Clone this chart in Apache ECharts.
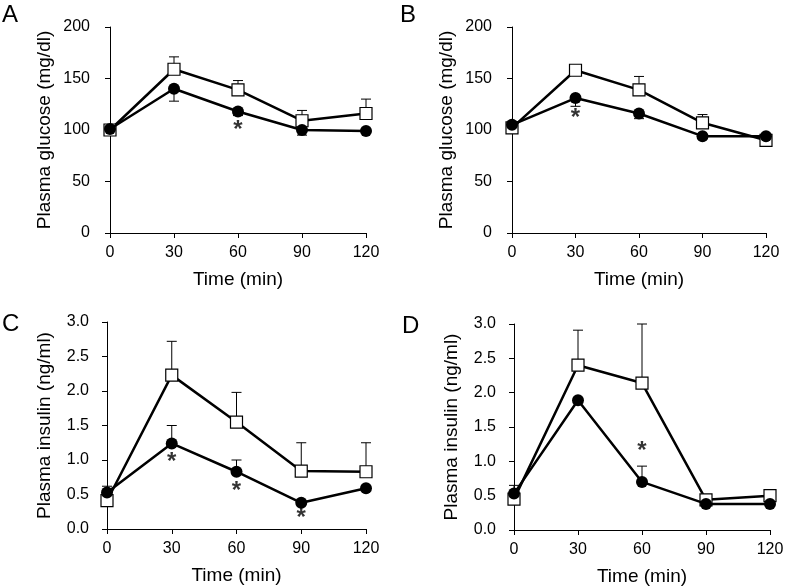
<!DOCTYPE html>
<html><head><meta charset="utf-8">
<script src="https://cdn.jsdelivr.net/npm/echarts@6/dist/echarts.min.js"></script>
<style>html,body{margin:0;padding:0;background:#fff}#c{width:787px;height:587px}</style>
</head><body><div id="c"></div>
<script>
const times = [0, 30, 60, 90, 120];
const xTicks = [0, 30, 60, 90, 120];
// Panel A: plasma glucose
const A_open = [100, 159, 139, 109, 116];
const A_openErr = [null, 171, 148, 119, 130];
const A_filled = [101, 140, 118, 100, 99];
const A_filledErr = [null, 128, 114, 95, null];
const A_star = [[60, 100]];
// Panel B: plasma glucose
const B_open = [102, 158, 139, 107, 90];
const B_openErr = [null, null, 152, 115, null];
const B_filled = [105, 131, 116, 94, 94];
const B_filledErr = [null, 123, 111, null, null];
const B_star = [[30, 111]];
// Panel C: plasma insulin
const C_open = [0.41, 2.23, 1.55, 0.84, 0.83];
const C_openErr = [0.62, 2.72, 1.98, 1.25, 1.25];
const C_filled = [0.53, 1.24, 0.83, 0.38, 0.59];
const C_filledErr = [null, 1.50, 1.00, null, null];
const C_star = [[30, 0.97], [60, 0.55], [90, 0.15]];
// Panel D: plasma insulin
const D_open = [0.45, 2.40, 2.14, 0.44, 0.50];
const D_openErr = [0.65, 2.91, 3.00, null, null];
const D_filled = [0.53, 1.89, 0.70, 0.38, 0.38];
const D_filledErr = [null, null, 0.93, null, null];
const D_star = [[60, 1.15]];

const letters = ['A', 'B', 'C', 'D'];
const yNames = ['Plasma glucose (mg/dl)', 'Plasma glucose (mg/dl)', 'Plasma insulin (ng/ml)', 'Plasma insulin (ng/ml)'];
const yMax = [200, 200, 3.0, 3.0];
const yInterval = [50, 50, 0.5, 0.5];

const panels = [
  {open: A_open, openErr: A_openErr, filled: A_filled, filledErr: A_filledErr, star: A_star},
  {open: B_open, openErr: B_openErr, filled: B_filled, filledErr: B_filledErr, star: B_star},
  {open: C_open, openErr: C_openErr, filled: C_filled, filledErr: C_filledErr, star: C_star},
  {open: D_open, openErr: D_openErr, filled: D_filled, filledErr: D_filledErr, star: D_star}
];

const grids = [
  {left: 110, top: 27, width: 256, height: 206},
  {left: 512, top: 27, width: 254, height: 206},
  {left: 107, top: 322, width: 259, height: 207},
  {left: 514, top: 324, width: 256, height: 207}
];
const letterPos = [[2, 3], [400, 3], [2, 312], [402, 314]];
const FONT = 'Liberation Sans, Arial, sans-serif';

const xAxes = [], yAxes = [], series = [], graphics = [];
panels.forEach((p, i) => {
  xAxes.push({
    gridIndex: i, type: 'value', min: 0, max: 120, interval: 30,
    name: 'Time (min)', nameLocation: 'middle', nameGap: 37,
    nameTextStyle: {fontFamily: FONT, fontSize: 19, color: '#000'},
    axisLine: {show: true, lineStyle: {color: '#000', width: 1}},
    axisTick: {show: true, length: 5, lineStyle: {color: '#000'}},
    axisLabel: {fontFamily: FONT, fontSize: 16, color: '#000', margin: 12,
      customValues: xTicks},
    splitLine: {show: false}
  });
  yAxes.push({
    gridIndex: i, type: 'value', min: 0, max: yMax[i], interval: yInterval[i],
    name: yNames[i], nameLocation: 'middle', nameGap: i < 2 ? 56 : 53,
    nameTextStyle: {fontFamily: FONT, fontSize: 19, color: '#000'},
    axisLine: {show: true, lineStyle: {color: '#000', width: 1}},
    axisTick: {show: true, length: 5, lineStyle: {color: '#000'}},
    axisLabel: {fontFamily: FONT, fontSize: 16, color: '#000', margin: i < 2 ? 20 : 18,
      formatter: v => i < 2 ? String(v) : v.toFixed(1)},
    splitLine: {show: false}
  });
  const errData = (means, ends) => times.map((t, k) => ends[k] == null ? null : [t, means[k], ends[k]]).filter(d => d);
  const errSeries = (means, ends) => ({
    type: 'custom', xAxisIndex: i, yAxisIndex: i, z: 1,
    data: errData(means, ends),
    renderItem: (params, api) => {
      const a = api.coord([api.value(0), api.value(1)]);
      const b = api.coord([api.value(0), api.value(2)]);
      const hw = 5;
      return {type: 'group', children: [
        {type: 'line', shape: {x1: a[0], y1: a[1], x2: b[0], y2: b[1]}, style: {stroke: '#000', lineWidth: 1}},
        {type: 'line', shape: {x1: b[0] - hw, y1: b[1], x2: b[0] + hw, y2: b[1]}, style: {stroke: '#000', lineWidth: 1}}
      ]};
    },
    silent: true
  });
  series.push(errSeries(p.open, p.openErr));
  series.push(errSeries(p.filled, p.filledErr));
  series.push({
    type: 'line', xAxisIndex: i, yAxisIndex: i, z: 3,
    data: times.map((t, k) => [t, p.open[k]]),
    symbol: 'rect', symbolSize: 12, showAllSymbol: true,
    lineStyle: {color: '#000', width: 2.5},
    itemStyle: {color: '#fff', borderColor: '#000', borderWidth: 1.2},
    animation: false
  });
  series.push({
    type: 'line', xAxisIndex: i, yAxisIndex: i, z: 4,
    data: times.map((t, k) => [t, p.filled[k]]),
    symbol: 'circle', symbolSize: 12, showAllSymbol: true,
    lineStyle: {color: '#000', width: 2.5},
    itemStyle: {color: '#000', borderColor: '#000', borderWidth: 0},
    animation: false
  });
  series.push({
    type: 'scatter', xAxisIndex: i, yAxisIndex: i, z: 5,
    data: p.star, symbolSize: 0,
    label: {show: true, position: 'inside', formatter: '*', fontFamily: FONT,
      fontSize: 24, fontWeight: 'bold', color: '#000'},
    animation: false, silent: true
  });
  graphics.push({type: 'text', left: letterPos[i][0], top: letterPos[i][1],
    style: {text: letters[i], fontFamily: FONT, fontSize: 24, fill: '#000'}});
});

const chart = echarts.init(document.getElementById('c'), null, {renderer: 'canvas'});
chart.setOption({
  animation: false,
  backgroundColor: '#fff',
  grid: grids,
  xAxis: xAxes,
  yAxis: yAxes,
  series: series,
  graphic: graphics
});
</script></body></html>
